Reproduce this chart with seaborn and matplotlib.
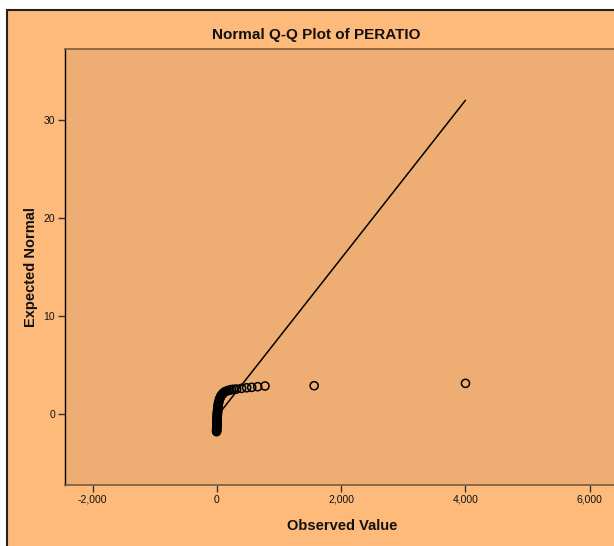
import matplotlib
matplotlib.use("Agg")
import matplotlib.pyplot as plt
import seaborn as sns
import pandas as pd
import numpy as np
from matplotlib.ticker import FuncFormatter
from matplotlib.patches import Rectangle
from matplotlib.transforms import blended_transform_factory

# ---- data ----
observed = [-5, -4, -3, -3, -2, -1, 0, 0, 1, 1, 2, 3, 3, 4, 5, 5, 6, 7, 8, 9,
            10, 11, 12, 14, 16, 19, 23, 28, 35, 45, 55, 65, 78, 90, 105, 129,
            155, 180, 210, 237, 270, 317, 398, 479, 560, 656, 774, 1565, 4000]
expected = [-1.80, -1.70, -1.60, -1.50, -1.40, -1.30, -1.20, -1.10, -1.00, -0.90,
            -0.80, -0.70, -0.60, -0.50, -0.40, -0.30, -0.20, -0.10, 0.00, 0.10,
            0.20, 0.30, 0.40, 0.55, 0.70, 0.85, 1.00, 1.15, 1.35, 1.55, 1.70, 1.85,
            1.94, 2.05, 2.15, 2.27, 2.35, 2.40, 2.45, 2.50, 2.52, 2.55, 2.62, 2.68,
            2.72, 2.79, 2.86, 2.89, 3.13]
line_mean = 31.0
line_sd = 124.0
x_ticks = [-2000, 0, 2000, 4000, 6000]
y_ticks = [0, 10, 20, 30]
title = "Normal Q-Q Plot of PERATIO"
x_label = "Observed Value"
y_label = "Expected Normal"

df = pd.DataFrame({"obs": observed, "exp": expected})
line_x = [min(observed), max(observed)]
line_df = pd.DataFrame({"x": line_x,
                        "y": [(v - line_mean) / line_sd for v in line_x]})

sns.set_style("white")
plt.rcParams["font.family"] = ["Liberation Sans", "DejaVu Sans"]

W, H = 614, 546
fig = plt.figure(figsize=(W / 100, H / 100), dpi=100)
fig.patch.set_facecolor("white")

outer = "#FEBA7B"
inner = "#EEAE73"
# chart frame
frame = Rectangle((7 / W, -0.1), 1.2, (H - 10) / H + 0.1,
                  transform=fig.transFigure, facecolor=outer,
                  edgecolor="#222222", linewidth=1.5, zorder=-10)
fig.add_artist(frame)

left_px, right_px, top_px, bottom_px = 65, 619, 49, 485
ax = fig.add_axes([left_px / W, 1 - bottom_px / H,
                   (right_px - left_px) / W, (bottom_px - top_px) / H])
ax.set_zorder(1)
ax.set_facecolor(inner)

sns.lineplot(data=line_df, x="x", y="y", color="black", linewidth=1.1, ax=ax)
sns.scatterplot(data=df, x="obs", y="exp", s=34, facecolor="none",
                edgecolor="black", linewidth=1.1, ax=ax, zorder=3)

ax.set_xlim(-2444, 6470)
ax.set_ylim(-7.24, 37.24)
ax.set_xticks(x_ticks)
ax.set_yticks(y_ticks)
ax.xaxis.set_major_formatter(FuncFormatter(lambda v, p: f"{int(v):,}"))
ax.yaxis.set_major_formatter(FuncFormatter(lambda v, p: f"{int(v)}"))
ax.tick_params(axis="both", which="major", direction="out", length=5,
               width=1, color="#333333", labelsize=7.5, labelcolor="#111111",
               left=True, bottom=True, pad=2)

for s in ["top", "bottom", "right"]:
    ax.spines[s].set_color("#7a5a3c")
    ax.spines[s].set_linewidth(1.2)
ax.spines["left"].set_color("black")
ax.spines["left"].set_linewidth(1.0)

ax.set_xlabel(x_label, fontsize=10.5, fontweight="bold", va="center", color="#111111")
ax.xaxis.set_label_coords(0.5, 1 - 526 / H,
                          transform=blended_transform_factory(ax.transAxes, fig.transFigure))
ax.set_ylabel(y_label, fontsize=10.5, fontweight="bold", va="center", color="#111111")
ax.yaxis.set_label_coords(31 / W, 0.5,
                          transform=blended_transform_factory(fig.transFigure, ax.transAxes))
fig.text(316 / W, 1 - 35 / H, title, ha="center", va="center",
         fontsize=11, fontweight="bold", color="#111111")

fig.savefig("out.png", dpi=100, facecolor=fig.get_facecolor())
